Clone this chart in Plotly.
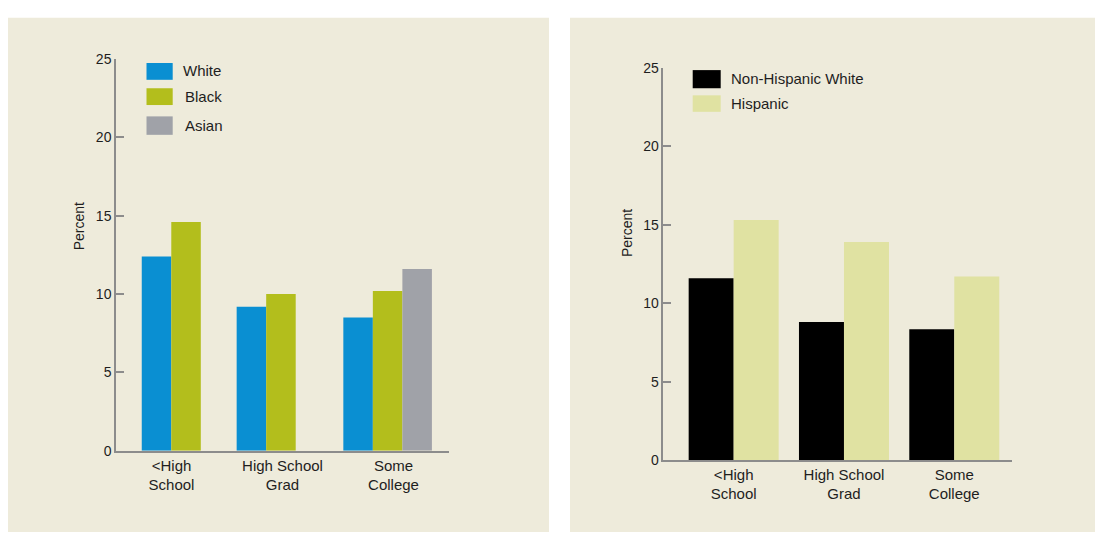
import plotly.graph_objects as go

# ---------------- data ----------------
categories = ["<High<br>School", "High School<br>Grad", "Some<br>College"]

race_series = ["White", "Black", "Asian"]
white_vals = [12.4, 9.2, 8.5]
black_vals = [14.6, 10.0, 10.2]
asian_vals = [None, None, 11.6]

eth_series = ["Non-Hispanic White", "Hispanic"]
nhw_vals = [11.6, 8.8, 8.35]
hisp_vals = [15.3, 13.9, 11.7]

y_ticks = [0, 5, 10, 15, 20, 25]

# ---------------- styles ----------------
W, H = 1095, 540
FONT = "Liberation Sans, Arial, Helvetica, sans-serif"
TXT = "#1e1e1e"
PANEL = "#EEEBDB"
AXIS = "#8c8c8c"
race_colors = ["#0A8FD2", "#B3BE1C", "#A0A2A8"]
eth_colors = ["#000000", "#E0E2A2"]


def px(x):
    return x / W


def py(y):
    return 1 - y / H


fig = go.Figure()

# left chart bars (explicit offsets to reproduce the original grouping)
bw_l = 0.266
left_offsets = [
    [-0.268, -0.413, -0.452],
    [-0.002, -0.147, -0.186],
    [0.264, 0.119, 0.080],
]
for name, vals, col, off in zip(race_series, [white_vals, black_vals, asian_vals],
                                race_colors, left_offsets):
    fig.add_trace(go.Bar(x=categories, y=vals, name=name, marker_color=col,
                         marker_line_width=0, width=bw_l, offset=off,
                         xaxis="x", yaxis="y", showlegend=False))

# right chart bars
bw_r = 0.408
for name, vals, col, off in zip(eth_series, [nhw_vals, hisp_vals], eth_colors,
                                [-bw_r, 0.0]):
    fig.add_trace(go.Bar(x=categories, y=vals, name=name, marker_color=col,
                         marker_line_width=0, width=bw_r, offset=off,
                         xaxis="x2", yaxis="y2", showlegend=False))

yaxis_common = dict(range=[0, 25], tickvals=y_ticks, showline=True, linecolor=AXIS,
                    linewidth=1.5, ticks="inside", ticklen=8, tickcolor=AXIS,
                    tickwidth=1.5, showgrid=False, zeroline=False,
                    tickfont=dict(family=FONT, size=14, color=TXT))
xaxis_common = dict(showline=True, linecolor=AXIS, linewidth=1.5, ticks="",
                    showgrid=False, zeroline=False, type="category",
                    tickfont=dict(family=FONT, size=15, color=TXT))

shapes = [
    dict(type="rect", xref="paper", yref="paper", x0=px(8), x1=px(549),
         y0=py(540), y1=py(10), fillcolor=PANEL, line_width=0, layer="below"),
    dict(type="rect", xref="paper", yref="paper", x0=px(570), x1=px(1095),
         y0=py(540), y1=py(10), fillcolor=PANEL, line_width=0, layer="below"),
]
annotations = []

# manual legends
left_leg = [(56.7, 74.0, 181), (82.7, 100.0, 183), (111.7, 130.7, 183)]
for (y0, y1, tx), name, col in zip(left_leg, race_series, race_colors):
    shapes.append(dict(type="rect", xref="paper", yref="paper", x0=px(146.5),
                       x1=px(172.7), y0=py(y1), y1=py(y0), fillcolor=col, line_width=0))
    annotations.append(dict(text=name, xref="paper", yref="paper", x=px(tx),
                            y=py((y0 + y1) / 2 - 0.5), xanchor="left", yanchor="middle",
                            showarrow=False, font=dict(family=FONT, size=15, color=TXT)))

right_leg = [(64.0, 82.7, 728.5), (90.0, 107.0, 728.5)]
for (y0, y1, tx), name, col in zip(right_leg, eth_series, eth_colors):
    shapes.append(dict(type="rect", xref="paper", yref="paper", x0=px(692.7),
                       x1=px(720.7), y0=py(y1), y1=py(y0), fillcolor=col, line_width=0))
    annotations.append(dict(text=name, xref="paper", yref="paper", x=px(tx),
                            y=py((y0 + y1) / 2 - 0.5), xanchor="left", yanchor="middle",
                            showarrow=False, font=dict(family=FONT, size=15, color=TXT)))

# axis titles
for x, y in [(79, 225), (626.5, 232.5)]:
    annotations.append(dict(text="Percent", xref="paper", yref="paper", x=px(x), y=py(y),
                            xanchor="center", yanchor="middle", textangle=-90,
                            showarrow=False, font=dict(family=FONT, size=14, color=TXT)))

fig.update_layout(
    width=W, height=H,
    margin=dict(l=0, r=0, t=0, b=0),
    paper_bgcolor="white",
    plot_bgcolor="rgba(0,0,0,0)",
    barmode="overlay",
    showlegend=False,
    xaxis=dict(domain=[px(116), px(449)], range=[-0.5, 2.5], anchor="y", **xaxis_common),
    yaxis=dict(domain=[py(456.3), py(52.7)], anchor="x", **yaxis_common),
    xaxis2=dict(domain=[px(663.3), px(1012.3)], range=[-0.638, 2.526], anchor="y2",
                **xaxis_common),
    yaxis2=dict(domain=[py(466), py(61.7)], anchor="x2", **yaxis_common),
    shapes=shapes,
    annotations=annotations,
)

fig.write_html("out.html", config={"displayModeBar": False},
               post_script="document.body.style.margin='0';document.body.style.overflow='hidden';")
